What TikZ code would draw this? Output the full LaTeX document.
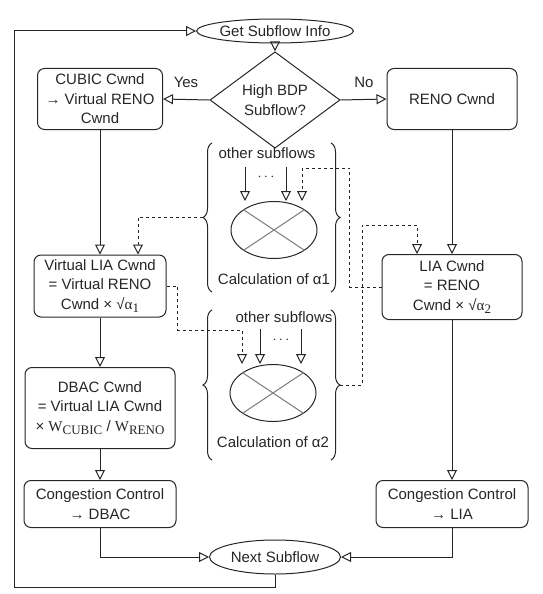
\documentclass[tikz,border=0pt]{standalone}
\usepackage{fontspec}
\setmainfont{Liberation Sans}
\newfontfamily\serifpart{Liberation Serif}
\newcommand{\lowsub}[1]{\raisebox{-0.45ex}{\serifpart\fontsize{13}{13}\selectfont #1}}
\usetikzlibrary{arrows.meta, shapes.geometric, decorations.pathreplacing}

\begin{document}
\begin{tikzpicture}[x=1pt, y=-1pt,
  every node/.style={font=\fontsize{15}{19.5}\selectfont, text=black!85},
  cwndbox/.style={draw=black!85, line width=1pt, rounded corners=7pt, align=center, inner sep=2pt},
  terminal/.style={draw=black!85, line width=1pt, ellipse, inner sep=0pt, minimum width=131pt},
  decision/.style={draw=black!85, line width=1pt, diamond, inner sep=0pt, align=center, minimum width=130pt, minimum height=72pt},
  sumcircle/.style={draw=black!85, line width=1pt, ellipse, minimum width=86pt, minimum height=57pt},
  flow/.style={draw=black!85, line width=1pt, -{Triangle[open, length=10pt, width=10pt]}},
  feed/.style={flow, dashed, dash pattern=on 3pt off 3pt},
  bracket/.style={draw=black!85, line width=1pt, decorate, decoration={brace, amplitude=9pt}}
]
  \useasboundingbox (0,0) rectangle (542,594);

  % Start and decision
  \node[terminal, minimum height=24pt] (get) at (275,31) {Get Subflow Info};
  \node[decision] (bdp) at (275,100) {High BDP\\Subflow?};
  \node (yes) at (186,82) {Yes};
  \node (no) at (364,82) {No};

  % Left column
  \node[cwndbox, minimum width=125pt, minimum height=61pt] (cubic) at (100,99)
    {CUBIC Cwnd\\→ Virtual RENO\\Cwnd};
  \node[cwndbox, minimum width=132pt, minimum height=62pt] (vlia) at (100,286)
    {Virtual LIA Cwnd\\= Virtual RENO\\Cwnd × √{\serifpart α}\lowsub{1}};
  \node[cwndbox, minimum width=150pt, minimum height=81pt] (dbac) at (100,408)
    {DBAC Cwnd\\= Virtual LIA Cwnd\\× {\serifpart W}\lowsub{CUBIC} / {\serifpart W}\lowsub{RENO}};
  \node[cwndbox, minimum width=152pt, minimum height=47pt] (ccdbac) at (100,504)
    {Congestion Control\\→ DBAC};

  % Right column
  \node[cwndbox, minimum width=130pt, minimum height=61pt] (reno) at (452,99) {RENO Cwnd};
  \node[cwndbox, minimum width=140pt, minimum height=65pt] (lia) at (452,287)
    {LIA Cwnd\\= RENO\\Cwnd × √{\serifpart α}\lowsub{2}};
  \node[cwndbox, minimum width=152pt, minimum height=47pt] (cclia) at (452,504)
    {Congestion Control\\→ LIA};

  % End
  \node[terminal, minimum height=34pt] (next) at (275,557) {Next Subflow};

  % Calculation of alpha1
  \draw[bracket] (212,292) -- (212,143);
  \draw[bracket] (331,143) -- (331,292);
  \coordinate (alw) at (203,217);
  \coordinate (ale) at (340,217);
  \node (oth1) at (267,153) {other subflows};
  \node (dots1) at (266,177) {$\cdots$};
  \node[sumcircle] (e1) at (274,230) {};
  \draw[gray, line width=1pt] (e1.north west) -- (e1.south east);
  \draw[gray, line width=1pt] (e1.north east) -- (e1.south west);
  \node (calc1) at (274,279) {Calculation of α1};
  \draw[flow] (245,167) -- (245,0 |- e1.north);
  \draw[flow] (286,167) -- (286,0 |- e1.north);

  % Calculation of alpha2
  \draw[bracket] (212,460) -- (212,310);
  \draw[bracket] (331,310) -- (331,460);
  \coordinate (a2w) at (203,385);
  \coordinate (a2e) at (340,385);
  \node (oth2) at (284,317) {other subflows};
  \node (dots2) at (281,340) {$\cdots$};
  \node[sumcircle] (e2) at (273,393) {};
  \draw[gray, line width=1pt] (e2.north west) -- (e2.south east);
  \draw[gray, line width=1pt] (e2.north east) -- (e2.south west);
  \node (calc2) at (273,442) {Calculation of α2};
  \draw[flow] (260,329) -- (260,0 |- e2.north);
  \draw[flow] (301,329) -- (301,0 |- e2.north);

  % Main flow
  \draw[flow] (get) -- (bdp);
  \draw[flow] (bdp.west) -- (cubic.east);
  \draw[flow] (bdp.east) -- (reno.west);
  \draw[flow] (cubic) -- (vlia);
  \draw[flow] (vlia) -- (dbac);
  \draw[flow] (dbac) -- (ccdbac);
  \draw[flow] (reno) -- (lia);
  \draw[flow] (lia) -- (cclia);
  \draw[flow] (ccdbac.south) |- (next.west);
  \draw[flow] (cclia.south) |- (next.east);
  \coordinate (loop) at (14,587);
  \draw[flow] (next.south) |- (loop) |- (get.west);

  % Dashed feedback
  \coordinate (in1) at (302,168);
  \coordinate (in2) at (242,330);
  \draw[feed] (alw) -| ([xshift=38pt]vlia.north);
  \draw[feed] (lia.west) -- ++(-32,0) |- (in1) -- (in1 |- e1.north);
  \draw[feed] (vlia.east) -- ++(11,0) |- (in2) -- (in2 |- e2.north);
  \draw[feed] (a2e) -| (362,225) -| ([xshift=-35pt]lia.north);
\end{tikzpicture}
\end{document}
